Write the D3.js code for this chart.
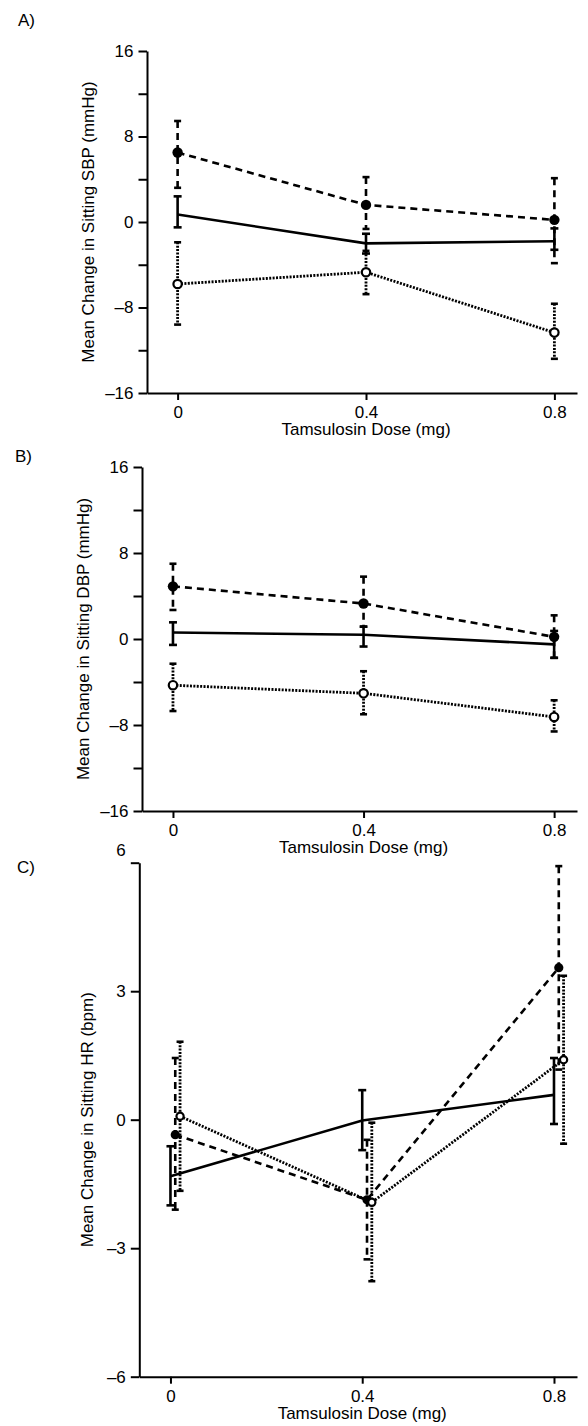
<!DOCTYPE html>
<html>
<head>
<meta charset="utf-8">
<script src="https://cdn.jsdelivr.net/npm/d3@7"></script>
<style>
  body { margin: 0; background: #fff; }
  svg { display: block; background: #fff; }
</style>
</head>
<body>
<div id="chart"></div>
<script>
"use strict";

// x categories
const doses = [0, 0.4, 0.8];
const doseLabels = ["0", "0.4", "0.8"];
const seriesKeys = ["filled", "line", "open"];
// panel C draws the groups slightly apart along x (dose units)
const doseJitter = [0.01, 0, 0.02];

// A) sitting SBP
const sbpFilled = [6.5, 1.6, 0.2];
const sbpFilledLo = [3.2, -0.65, -3.85];
const sbpFilledHi = [9.45, 4.2, 4.1];
const sbpLine = [0.7, -2.0, -1.8];
const sbpLineLo = [-0.5, -2.95, -2.6];
const sbpLineHi = [2.4, -1.1, -0.6];
const sbpOpen = [-5.8, -4.7, -10.35];
const sbpOpenLo = [-9.6, -6.75, -12.8];
const sbpOpenHi = [-1.9, -2.7, -7.65];

// B) sitting DBP
const dbpFilled = [4.9, 3.3, 0.2];
const dbpFilledLo = [2.7, 1.15, -1.75];
const dbpFilledHi = [7.0, 5.8, 2.2];
const dbpLine = [0.6, 0.4, -0.5];
const dbpLineLo = [-0.55, -0.7, -1.75];
const dbpLineHi = [1.55, 1.15, 0.75];
const dbpOpen = [-4.3, -5.05, -7.25];
const dbpOpenLo = [-6.7, -7.0, -8.6];
const dbpOpenHi = [-2.3, -3.0, -5.7];

// C) sitting HR
const hrFilled = [-0.35, -1.87, 3.55];
const hrFilledLo = [-2.1, -3.26, 1.17];
const hrFilledHi = [1.44, -0.47, 5.92];
const hrLine = [-1.32, -0.02, 0.58];
const hrLineLo = [-2.0, -0.71, -0.1];
const hrLineHi = [-0.62, 0.69, 1.44];
const hrOpen = [0.08, -1.93, 1.4];
const hrOpenLo = [-1.66, -3.77, -0.56];
const hrOpenHi = [1.82, -0.07, 3.36];

// y ticks
const bpTicks = [-16, -12, -8, -4, 0, 4, 8, 12, 16];
const bpTickLabels = ["–16", "", "–8", "", "0", "", "8", "", "16"];
const hrTicks = [-6, -3, 0, 3, 6];
const hrTickLabels = ["–6", "–3", "0", "3", "6"];

const panels = [
    {
        letter: "A)", yLabel: "Mean Change in Sitting SBP (mmHg)",
        yDomain: [-16, 16], yTicks: bpTicks, yTickLabels: bpTickLabels, jitter: false,
        series: {
            filled: [sbpFilled, sbpFilledLo, sbpFilledHi],
            line: [sbpLine, sbpLineLo, sbpLineHi],
            open: [sbpOpen, sbpOpenLo, sbpOpenHi]
        },
        axisX: 147, top: 51, bottom: 393, labelX: 94, letterX: 18, letterY: 26, r: 5.2
    },
    {
        letter: "B)", yLabel: "Mean Change in Sitting DBP (mmHg)",
        yDomain: [-16, 16], yTicks: bpTicks, yTickLabels: bpTickLabels, jitter: false,
        series: {
            filled: [dbpFilled, dbpFilledLo, dbpFilledHi],
            line: [dbpLine, dbpLineLo, dbpLineHi],
            open: [dbpOpen, dbpOpenLo, dbpOpenHi]
        },
        axisX: 142, top: 467, bottom: 811, labelX: 89, letterX: 15, letterY: 462, r: 5.2
    },
    {
        letter: "C)", yLabel: "Mean Change in Sitting HR (bpm)",
        yDomain: [-6, 6], yTicks: hrTicks, yTickLabels: hrTickLabels, jitter: true,
        series: {
            filled: [hrFilled, hrFilledLo, hrFilledHi],
            line: [hrLine, hrLineLo, hrLineHi],
            open: [hrOpen, hrOpenLo, hrOpenHi]
        },
        axisX: 139.3, top: 862.7, bottom: 1376.7, labelX: 93, letterX: 17, letterY: 873, r: 4.6
    }
];

const styles = {
    filled: { dash: "7,5", cap: 7, width: 2.6 },
    line: { dash: null, cap: 8, width: 2.6 },
    open: { dash: "2,1.4", cap: 7, width: 2.8 }
};

const font = "'Liberation Sans', Arial, Helvetica, sans-serif";
const width = 588,
    height = 1426,
    rightEdge = 577;

const svg = d3.select("#chart").append("svg")
    .attr("width", width)
    .attr("height", height)
    .style("font-family", font);

panels.forEach((p) => {
    const g = svg.append("g");

    const x = d3.scaleLinear().domain([-0.065, 0.848]).range([p.axisX, rightEdge]);
    const y = d3.scaleLinear().domain(p.yDomain).range([p.bottom, p.top]);

    // axes
    const xAxis = g.append("g")
        .attr("transform", `translate(0,${p.bottom})`)
        .call(d3.axisBottom(x)
            .tickValues(doses)
            .tickFormat((d, i) => doseLabels[i])
            .tickSize(7)
            .tickSizeOuter(0)
            .tickPadding(6));

    const yAxis = g.append("g")
        .attr("transform", `translate(${p.axisX},0)`)
        .call(d3.axisLeft(y)
            .tickValues(p.yTicks)
            .tickFormat((d, i) => p.yTickLabels[i])
            .tickSize(8.5)
            .tickSizeOuter(0)
            .tickPadding(5));

    [xAxis, yAxis].forEach((a) => {
        a.attr("font-family", font).attr("font-size", 17);
        a.selectAll("path, line").attr("stroke", "#000").attr("stroke-width", 2);
        a.selectAll("text").attr("fill", "#000");
    });

    // the top "6" in panel C sits a little above its tick
    if (p.jitter) {
        yAxis.selectAll(".tick").filter((d) => d === 6).select("text").attr("dy", "-0.43em");
    }

    g.append("text")
        .attr("x", x(0.4))
        .attr("y", p.bottom + 42)
        .attr("text-anchor", "middle")
        .attr("font-size", 17)
        .text("Tamsulosin Dose (mg)");

    g.append("text")
        .attr("transform", `translate(${p.labelX},${(p.top + p.bottom) / 2}) rotate(-90)`)
        .attr("text-anchor", "middle")
        .attr("font-size", 17)
        .text(p.yLabel);

    g.append("text")
        .attr("x", p.letterX)
        .attr("y", p.letterY)
        .attr("font-size", 17)
        .text(p.letter);

    const line = d3.line()
        .x((d) => x(d.dose))
        .y((d) => y(d.mean));

    const allPoints = {};

    seriesKeys.forEach((k, si) => {
        const [mean, lo, hi] = p.series[k];
        const st = styles[k];
        const pts = doses.map((dose, i) => ({
            dose: dose + (p.jitter ? doseJitter[si] : 0),
            mean: mean[i],
            lo: lo[i],
            hi: hi[i]
        }));
        allPoints[k] = pts;

        g.append("path")
            .datum(pts)
            .attr("d", line)
            .attr("fill", "none")
            .attr("stroke", "#000")
            .attr("stroke-width", st.width)
            .attr("stroke-dasharray", st.dash);

        const bars = g.append("g").selectAll("g")
            .data(pts)
            .join("g");

        bars.append("line")
            .attr("x1", (d) => x(d.dose))
            .attr("x2", (d) => x(d.dose))
            .attr("y1", (d) => y(d.hi))
            .attr("y2", (d) => y(d.lo))
            .attr("stroke", "#000")
            .attr("stroke-width", st.width)
            .attr("stroke-dasharray", st.dash);

        ["lo", "hi"].forEach((end) => {
            bars.append("line")
                .attr("x1", (d) => x(d.dose) - st.cap / 2)
                .attr("x2", (d) => x(d.dose) + st.cap / 2)
                .attr("y1", (d) => y(d[end]))
                .attr("y2", (d) => y(d[end]))
                .attr("stroke", "#000")
                .attr("stroke-width", 2.6);
        });
    });

    // markers on top
    g.append("g").selectAll("circle")
        .data(allPoints.filled)
        .join("circle")
        .attr("cx", (d) => x(d.dose))
        .attr("cy", (d) => y(d.mean))
        .attr("r", p.r)
        .attr("fill", "#000");

    g.append("g").selectAll("circle")
        .data(allPoints.open)
        .join("circle")
        .attr("cx", (d) => x(d.dose))
        .attr("cy", (d) => y(d.mean))
        .attr("r", p.r - 1)
        .attr("fill", "#fff")
        .attr("stroke", "#000")
        .attr("stroke-width", 2.2);
});
</script>
</body>
</html>
